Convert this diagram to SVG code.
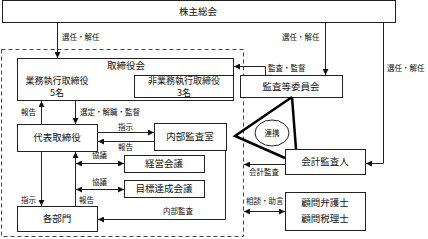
<svg xmlns="http://www.w3.org/2000/svg" width="428" height="239" viewBox="0 0 428 239">
<style>
.box{fill:#fff;stroke:#222;stroke-width:1}
.t{font-family:"Noto Sans CJK JP","Noto Sans",sans-serif;font-size:9.5px;fill:#111;text-anchor:middle}
.s{font-size:9px}
.l{font-family:"Noto Sans CJK JP","Noto Sans",sans-serif;font-size:7.5px;fill:#111}
.c{fill:none;stroke:#222;stroke-width:1}
</style>
<defs>
<marker id="ah" markerUnits="userSpaceOnUse" markerWidth="6" markerHeight="6" refX="6" refY="3" orient="auto-start-reverse"><path d="M0,0 L6,3 L0,6 z" fill="#111"/></marker>
</defs>
<rect x="1.5" y="49.5" width="242" height="187" fill="none" stroke="#444" stroke-width="1" stroke-dasharray="4,3"/>
<g id="kabunushi"><rect class="box" x="2.5" y="0.5" width="393" height="22"/><text class="t" x="198" y="15">株主総会</text></g>
<g id="torishimariyakukai"><rect class="box" x="17.5" y="58.5" width="216" height="42"/><text class="t" x="126" y="69">取締役会</text><text class="t s" x="57" y="83.5">業務執行取締役</text><text class="t s" x="57" y="96">5名</text></g>
<g id="higyomu"><rect class="box" x="134.5" y="75.5" width="99" height="22"/><text class="t s" x="184" y="84">非業務執行取締役</text><text class="t s" x="184" y="96">3名</text></g>
<g id="kansatoiinkai"><rect class="box" x="240.5" y="75.5" width="102" height="22"/><text class="t" x="291" y="90">監査等委員会</text></g>
<g id="daihyo"><rect class="box" x="17.5" y="124.5" width="80" height="27"/><text class="t" x="57" y="141">代表取締役</text></g>
<g id="naibukansashitsu"><rect class="box" x="154.5" y="123.5" width="72" height="27"/><text class="t" x="190" y="140">内部監査室</text></g>
<g id="keieikaigi"><rect class="box" x="124.5" y="155.5" width="80" height="17"/><text class="t" x="164" y="167">経営会議</text></g>
<g id="mokuhyo"><rect class="box" x="124.5" y="180.5" width="80" height="17"/><text class="t" x="164" y="192">目標達成会議</text></g>
<g id="kakubumon"><rect class="box" x="17.5" y="206.5" width="80" height="25"/><text class="t" x="57" y="222">各部門</text></g>
<g id="kaikeikansanin"><rect class="box" x="285.5" y="149.5" width="80" height="25"/><text class="t" x="325" y="165">会計監査人</text></g>
<g id="komon"><rect class="box" x="285.5" y="192.5" width="80" height="38"/><text class="t" x="325" y="206">顧問弁護士</text><text class="t" x="325" y="222">顧問税理士</text></g>
<g id="renkei"><path d="M292,97 L235,136 L285,158 M292,97 L296,149" fill="none" stroke="#000" stroke-width="2.5" stroke-linejoin="miter"/><ellipse cx="272" cy="133" rx="17" ry="13" fill="#fff" stroke="#222" stroke-width="1"/><text class="l" x="272" y="136" text-anchor="middle" font-size="8.5">連携</text></g>
<g id="connectors">
<path class="c" d="M57.5,23 V58" marker-end="url(#ah)"/>
<path class="c" d="M325.5,23 V75" marker-end="url(#ah)"/>
<path class="c" d="M383.5,23 V163.5 H366" marker-end="url(#ah)"/>
<path class="c" d="M265.5,75 V66.5 H234" marker-end="url(#ah)"/>
<path class="c" d="M41.5,124 V101" marker-end="url(#ah)"/>
<path class="c" d="M75.5,101 V124" marker-end="url(#ah)"/>
<path class="c" d="M98,132.5 H154" marker-end="url(#ah)"/>
<path class="c" d="M154,141.5 H98" marker-end="url(#ah)"/>
<path class="c" d="M76,163.5 H124" marker-start="url(#ah)" marker-end="url(#ah)"/>
<path class="c" d="M76,189.5 H124" marker-start="url(#ah)" marker-end="url(#ah)"/>
<path class="c" d="M41.5,152 V206" marker-end="url(#ah)"/>
<path class="c" d="M75.5,206 V152" marker-end="url(#ah)"/>
<path class="c" d="M225.5,151 V219.5 H98" marker-end="url(#ah)"/>
<path class="c" d="M285,164.5 H244" marker-end="url(#ah)"/>
<path class="c" d="M244,211.5 H285" marker-start="url(#ah)" marker-end="url(#ah)"/>
<text class="l" x="62" y="40">選任・解任</text>
<text class="l" x="282" y="40">選任・解任</text>
<text class="l" x="387" y="71">選任・解任</text>
<text class="l" x="268" y="71">監査・監督</text>
<text class="l" x="21" y="115">報告</text>
<text class="l" x="80" y="115">選定・解職・監督</text>
<text class="l" x="118" y="130">指示</text>
<text class="l" x="118" y="150">報告</text>
<text class="l" x="92" y="158">協議</text>
<text class="l" x="92" y="185">協議</text>
<text class="l" x="21" y="203">指示</text>
<text class="l" x="79" y="203">報告</text>
<text class="l" x="163" y="214">内部監査</text>
<text class="l" x="249" y="175">会計監査</text>
<text class="l" x="246" y="204">相談・助言</text>
</g>
</svg>
